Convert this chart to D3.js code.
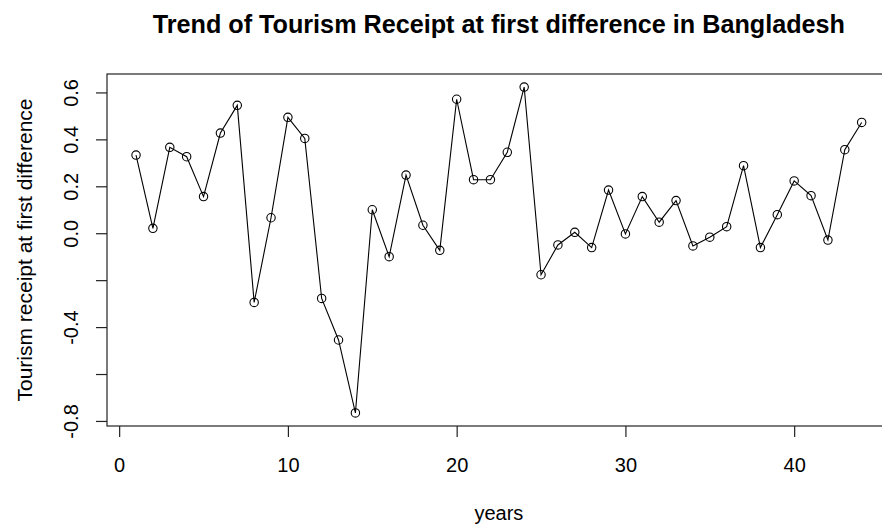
<!DOCTYPE html>
<html>
<head>
<meta charset="utf-8">
<script src="https://cdn.jsdelivr.net/npm/d3@7"></script>
<style>
  html, body { margin: 0; padding: 0; background: #ffffff; }
  svg { display: block; }
  text { font-family: "Liberation Sans", Arial, sans-serif; fill: #000; }
</style>
</head>
<body>
<svg id="chart" width="882" height="524"></svg>
<script>
// Year index of each first-differenced observation
const years = d3.range(1, 45);
// First difference of tourism receipts
const receiptDiff = [
  0.333, 0.021, 0.366, 0.326, 0.156, 0.427, 0.545, -0.295, 0.066, 0.494,
  0.404, -0.278, -0.455, -0.766, 0.100, -0.100, 0.248, 0.034, -0.073, 0.571,
  0.228, 0.228, 0.345, 0.623, -0.177, -0.050, 0.004, -0.061, 0.184, -0.003,
  0.156, 0.047, 0.139, -0.054, -0.017, 0.028, 0.288, -0.061, 0.079, 0.223,
  0.160, -0.029, 0.356, 0.472
];
const xTicks = [0, 10, 20, 30, 40];
const yTicks = [-0.8, -0.6, -0.4, -0.2, 0.0, 0.2, 0.4, 0.6];
const yTickLabels = ["-0.8", "", "-0.4", "", "0.0", "0.2", "0.4", "0.6"];

const titleText = "Trend of Tourism Receipt at first difference in Bangladesh";
const xTitle = "years";
const yTitle = "Tourism receipt at first difference";

const svg = d3.select("#chart");
const box = { left: 107, right: 890.7, top: 74, bottom: 426 };

// Axis ranges padded by 4% on each side of the data
function padded(ext) {
  const d = (ext[1] - ext[0]) * 0.04;
  return [ext[0] - d, ext[1] + d];
}
const x = d3.scaleLinear().domain(padded(d3.extent(years))).range([box.left, box.right]);
const y = d3.scaleLinear().domain(padded(d3.extent(receiptDiff))).range([box.bottom, box.top]);

const data = years.map((yr, i) => ({ yr, v: receiptDiff[i] }));

// Series line
svg.append("path")
  .datum(data)
  .attr("fill", "none")
  .attr("stroke", "#000")
  .attr("stroke-width", 1.1)
  .attr("d", d3.line().x(d => x(d.yr)).y(d => y(d.v)));

// Open circle markers
svg.append("g").selectAll("circle")
  .data(data)
  .join("circle")
  .attr("cx", d => x(d.yr))
  .attr("cy", d => y(d.v))
  .attr("r", 4.2)
  .attr("fill", "none")
  .attr("stroke", "#000")
  .attr("stroke-width", 1.1);

// Frame around the plotting region
svg.append("rect")
  .attr("x", box.left)
  .attr("y", box.top)
  .attr("width", box.right - box.left)
  .attr("height", box.bottom - box.top)
  .attr("fill", "none")
  .attr("stroke", "#222")
  .attr("stroke-width", 1.2);

// Bottom axis
const xAxis = d3.axisBottom(x).tickValues(xTicks).tickSize(11).tickPadding(21)
  .tickFormat(d3.format("d"));
const gx = svg.append("g").attr("transform", `translate(0,${box.bottom})`).call(xAxis);
gx.select(".domain").remove();
gx.selectAll(".tick line").attr("stroke", "#222").attr("stroke-width", 1.2);
gx.selectAll(".tick text")
  .attr("font-size", 20)
  .attr("font-family", "Liberation Sans, Arial, sans-serif")
  .attr("fill", "#000");

// Left axis, labels turned parallel to the axis
const yAxis = d3.axisLeft(y).tickValues(yTicks).tickSize(11)
  .tickFormat((d, i) => yTickLabels[i]);
const gy = svg.append("g").attr("transform", `translate(${box.left},0)`).call(yAxis);
gy.select(".domain").remove();
gy.selectAll(".tick line").attr("stroke", "#222").attr("stroke-width", 1.2);
gy.selectAll(".tick text")
  .attr("font-size", 20)
  .attr("font-family", "Liberation Sans, Arial, sans-serif")
  .attr("fill", "#000")
  .attr("x", null).attr("dy", null)
  .attr("text-anchor", "middle")
  .attr("transform", "translate(-29,0) rotate(-90)");

// Titles
svg.append("text")
  .attr("x", (box.left + box.right) / 2)
  .attr("y", 33)
  .attr("text-anchor", "middle")
  .attr("font-size", 25.2)
  .attr("font-weight", "bold")
  .text(titleText);

svg.append("text")
  .attr("x", (box.left + box.right) / 2)
  .attr("y", 520)
  .attr("text-anchor", "middle")
  .attr("font-size", 20)
  .text(xTitle);

svg.append("text")
  .attr("transform", `translate(32,${(box.top + box.bottom) / 2}) rotate(-90)`)
  .attr("text-anchor", "middle")
  .attr("font-size", 21)
  .text(yTitle);
</script>
</body>
</html>
